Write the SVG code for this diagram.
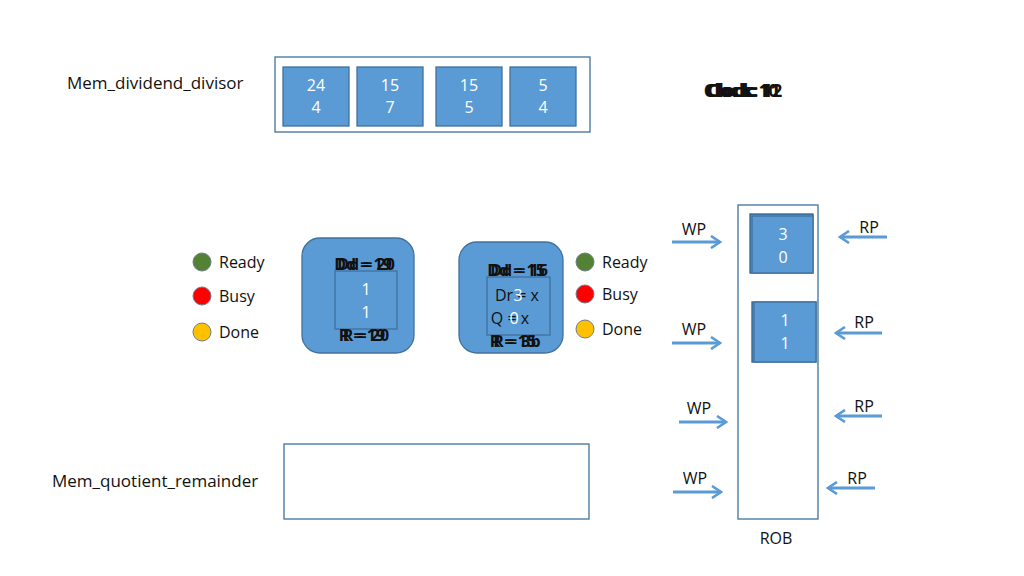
<svg xmlns="http://www.w3.org/2000/svg" width="1024" height="576" viewBox="0 0 1024 576">
<defs>
<marker id="ah" viewBox="0 0 12 14" refX="10" refY="7" markerWidth="12" markerHeight="14" markerUnits="userSpaceOnUse" orient="auto">
<polyline points="1,1 10,7 1,13" fill="none" stroke="#5b9bd5" stroke-width="2.6"/>
</marker>
</defs>
<style>
text{font-family:"Open Sans","Liberation Sans",sans-serif;}
.lbl{font-size:16px;fill:#111;}
.big{font-size:17px;fill:#111;}
.w{font-size:16px;fill:#fff;text-anchor:middle;}
.box{fill:#5b9bd5;stroke:#41719c;stroke-width:1.3;}
.frame{fill:#fff;stroke:#41719c;stroke-width:1.3;}
.node{fill:#5b9bd5;stroke:#41719c;stroke-width:1.3;}
.ov{font-size:16px;fill:#111;text-anchor:middle;font-weight:bold;}
.conn{stroke:#5b9bd5;stroke-width:3;fill:none;marker-end:url(#ah);}
.dot{stroke:#6d7e8c;stroke-width:1;}
</style>
<rect width="1024" height="576" fill="#fff"/>

<g id="mem_dividend_divisor">
<text class="big" x="67" y="89">Mem_dividend_divisor</text>
<rect class="frame" x="275" y="57" width="315" height="75"/>
<rect class="box" x="283" y="67" width="66" height="59"/>
<text class="w" x="316" y="91">24</text><text class="w" x="316" y="113">4</text>
<rect class="box" x="357" y="67" width="66" height="59"/>
<text class="w" x="390" y="91">15</text><text class="w" x="390" y="113">7</text>
<rect class="box" x="436" y="67" width="66" height="59"/>
<text class="w" x="469" y="91">15</text><text class="w" x="469" y="113">5</text>
<rect class="box" x="510" y="67" width="66" height="59"/>
<text class="w" x="543" y="91">5</text><text class="w" x="543" y="113">4</text>
</g>

<g id="clock">
<text class="ov" x="741" y="97" style="font-size:17px">Clock: 10</text>
<text class="ov" x="743" y="97" style="font-size:17px">Clock: 11</text>
<text class="ov" x="745" y="97" style="font-size:17px">Clock: 12</text>
</g>

<g id="legend_left">
<circle class="dot" cx="202" cy="262" r="9" fill="#548235"/>
<text class="lbl" x="219" y="268">Ready</text>
<circle class="dot" cx="202" cy="296" r="9" fill="#ff0000"/>
<text class="lbl" x="219" y="302">Busy</text>
<circle class="dot" cx="202" cy="332" r="9" fill="#ffc000"/>
<text class="lbl" x="219" y="338">Done</text>
</g>

<g id="divider_1">
<rect class="node" x="302" y="238" width="112" height="115" rx="18"/>
<rect class="box" x="335" y="271" width="62" height="58"/>
<text class="ov" x="363" y="270">Dd = 19</text>
<text class="ov" x="366" y="270">Dd = 20</text>
<text class="w" x="366" y="295">1</text>
<text class="w" x="366" y="318">1</text>
<text class="ov" x="362" y="341">R = 19</text>
<text class="ov" x="366" y="341">R = 20</text>
</g>

<g id="divider_2">
<rect class="node" x="459" y="242" width="104" height="111" rx="18"/>
<rect class="box" x="487" y="277" width="63" height="58"/>
<text class="ov" x="516" y="276">Dd = 15</text>
<text class="ov" x="519" y="276">Dd = 16</text>
<text class="lbl" x="517" y="301" style="text-anchor:middle;fill:#111">Dr = x</text>
<text class="w" x="518" y="301">3</text>
<text class="lbl" x="510" y="324" style="text-anchor:middle;fill:#111">Q = x</text>
<text class="w" x="514" y="324">0</text>
<text class="ov" x="513" y="347">R = 15</text>
<text class="ov" x="517" y="347">R = 3b</text>
</g>

<g id="legend_right">
<circle class="dot" cx="585" cy="262" r="9" fill="#548235"/>
<text class="lbl" x="602" y="268">Ready</text>
<circle class="dot" cx="585" cy="294" r="9" fill="#ff0000"/>
<text class="lbl" x="602" y="300">Busy</text>
<circle class="dot" cx="585" cy="329" r="9" fill="#ffc000"/>
<text class="lbl" x="602" y="335">Done</text>
</g>

<g id="mem_quotient_remainder">
<text class="big" x="52" y="487">Mem_quotient_remainder</text>
<rect class="frame" x="284" y="444" width="305" height="75"/>
</g>

<g id="rob">
<rect class="frame" x="738" y="205" width="80" height="314"/>
<text class="lbl" x="776" y="544" style="text-anchor:middle">ROB</text>
<rect class="box" x="750" y="214" width="63" height="59" style="stroke:#2e5f8a"/>
<rect class="box" x="752" y="216" width="61" height="57"/>
<text class="w" x="783" y="240">3</text><text class="w" x="783" y="263">0</text>
<rect class="box" x="752" y="302" width="64" height="60" style="stroke:#2e5f8a"/>
<rect class="box" x="754" y="302" width="62" height="60"/>
<text class="w" x="785" y="326">1</text><text class="w" x="785" y="349">1</text>
</g>

<g id="connectors">
<line class="conn" x1="672" y1="242" x2="720" y2="242"/>
<line class="conn" x1="672" y1="343" x2="720" y2="343"/>
<line class="conn" x1="679" y1="422" x2="726" y2="422"/>
<line class="conn" x1="673" y1="492" x2="721" y2="492"/>
<line class="conn" x1="887" y1="237" x2="840" y2="237"/>
<line class="conn" x1="882" y1="333" x2="836" y2="333"/>
<line class="conn" x1="882" y1="416" x2="836" y2="416"/>
<line class="conn" x1="875" y1="488" x2="828" y2="488"/>
<text class="lbl" x="694" y="235" style="text-anchor:middle">WP</text>
<text class="lbl" x="694" y="335" style="text-anchor:middle">WP</text>
<text class="lbl" x="699" y="414" style="text-anchor:middle">WP</text>
<text class="lbl" x="695" y="484" style="text-anchor:middle">WP</text>
<text class="lbl" x="869" y="233" style="text-anchor:middle">RP</text>
<text class="lbl" x="864" y="328" style="text-anchor:middle">RP</text>
<text class="lbl" x="864" y="412" style="text-anchor:middle">RP</text>
<text class="lbl" x="857" y="484" style="text-anchor:middle">RP</text>
</g>
</svg>
